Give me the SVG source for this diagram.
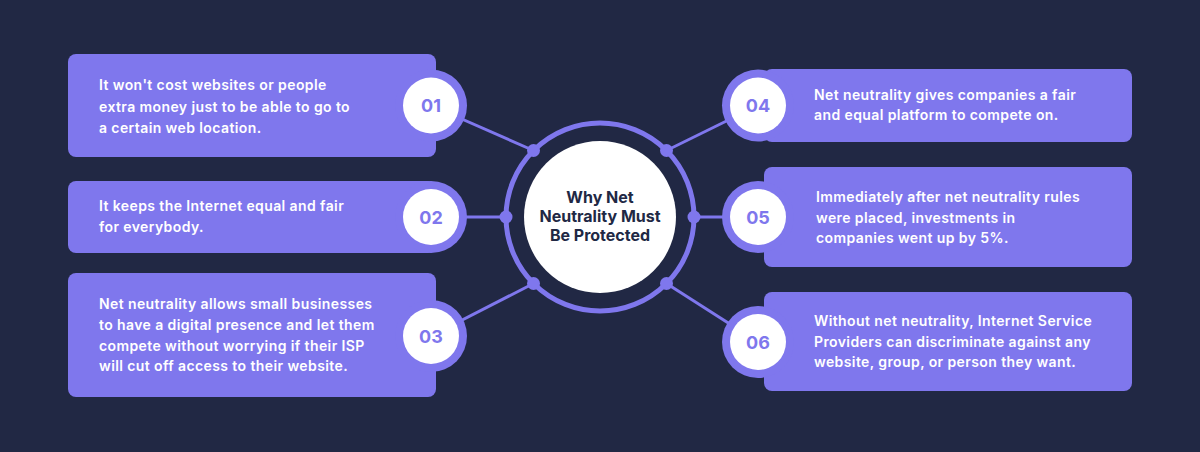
<svg xmlns="http://www.w3.org/2000/svg" width="1200" height="452" viewBox="0 0 1200 452">
  <style>
    .bg { fill: #212844; }
    .box { fill: #7f77ed; }
    .ring { fill: #7f77ed; }
    .inner { fill: #ffffff; }
    .num { font-family: Inter, "Open Sans", sans-serif; font-weight: 700; font-size: 18px; fill: #7f77ed; text-anchor: middle; }
    .txt { font-family: Inter, "Open Sans", sans-serif; font-weight: 600; font-size: 14px; letter-spacing: 0.4px; fill: #ffffff; }
    .title { font-family: Inter, "Open Sans", sans-serif; font-weight: 700; font-size: 16px; fill: #212844; text-anchor: middle; }
    .conn { stroke: #7f77ed; stroke-width: 3; fill: none; }
    .dot { fill: #7f77ed; }
  </style>
  <rect class="bg" x="0" y="0" width="1200" height="452"/>

  <g id="center">
    <circle cx="600" cy="217" r="94" fill="none" stroke="#7f77ed" stroke-width="5"/>
    <circle class="inner" cx="600" cy="217" r="76"/>
    <text class="title" x="600" y="203">Why Net</text>
    <text class="title" x="600" y="222">Neutrality Must</text>
    <text class="title" x="600" y="241">Be Protected</text>
  </g>

  <g id="connectors">
    <line class="conn" x1="533.5" y1="150.5" x2="431" y2="105.5"/>
    <line class="conn" x1="506" y1="217" x2="431" y2="217"/>
    <line class="conn" x1="533.5" y1="283.5" x2="431" y2="336"/>
    <line class="conn" x1="666.5" y1="150.5" x2="758" y2="105.5"/>
    <line class="conn" x1="694" y1="217" x2="758" y2="217"/>
    <line class="conn" x1="666.5" y1="283.5" x2="758" y2="342"/>
    <circle class="dot" cx="533.5" cy="150.5" r="6.5"/>
    <circle class="dot" cx="506" cy="217" r="6.5"/>
    <circle class="dot" cx="533.5" cy="283.5" r="6.5"/>
    <circle class="dot" cx="666.5" cy="150.5" r="6.5"/>
    <circle class="dot" cx="694" cy="217" r="6.5"/>
    <circle class="dot" cx="666.5" cy="283.5" r="6.5"/>
  </g>

  <g id="node-01">
    <rect class="box" x="68" y="54" width="368" height="103" rx="8"/>
    <circle class="ring" cx="431" cy="105.5" r="36"/>
    <circle class="inner" cx="431" cy="105.5" r="28"/>
    <text class="num" x="431" y="112">01</text>
    <text class="txt" x="99" y="90">It won't cost websites or people</text>
    <text class="txt" x="99" y="111.5">extra money just to be able to go to</text>
    <text class="txt" x="99" y="132.5">a certain web location.</text>
  </g>

  <g id="node-02">
    <rect class="box" x="68" y="181" width="368" height="72" rx="8"/>
    <circle class="ring" cx="431" cy="217" r="36"/>
    <circle class="inner" cx="431" cy="217" r="28"/>
    <text class="num" x="431" y="223.5">02</text>
    <text class="txt" x="99" y="211">It keeps the Internet equal and fair</text>
    <text class="txt" x="99" y="232">for everybody.</text>
  </g>

  <g id="node-03">
    <rect class="box" x="68" y="273" width="368" height="124" rx="8"/>
    <circle class="ring" cx="431" cy="336" r="36"/>
    <circle class="inner" cx="431" cy="336" r="28"/>
    <text class="num" x="431" y="342.5">03</text>
    <text class="txt" x="99" y="309">Net neutrality allows small businesses</text>
    <text class="txt" x="99" y="330">to have a digital presence and let them</text>
    <text class="txt" x="99" y="350.5">compete without worrying if their ISP</text>
    <text class="txt" x="99" y="371">will cut off access to their website.</text>
  </g>

  <g id="node-04">
    <rect class="box" x="764" y="69" width="368" height="73" rx="8"/>
    <circle class="ring" cx="758" cy="105.5" r="36"/>
    <circle class="inner" cx="758" cy="105.5" r="28"/>
    <text class="num" x="758" y="112">04</text>
    <text class="txt" x="814" y="99.5">Net neutrality gives companies a fair</text>
    <text class="txt" x="814" y="120">and equal platform to compete on.</text>
  </g>

  <g id="node-05">
    <rect class="box" x="764" y="167" width="368" height="100" rx="8"/>
    <circle class="ring" cx="758" cy="217" r="36"/>
    <circle class="inner" cx="758" cy="217" r="28"/>
    <text class="num" x="758" y="223.5">05</text>
    <text class="txt" x="816" y="201.5">Immediately after net neutrality rules</text>
    <text class="txt" x="816" y="222.5">were placed, investments in</text>
    <text class="txt" x="816" y="243">companies went up by 5%.</text>
  </g>

  <g id="node-06">
    <rect class="box" x="764" y="292" width="368" height="99" rx="8"/>
    <circle class="ring" cx="758" cy="342" r="36"/>
    <circle class="inner" cx="758" cy="342" r="28"/>
    <text class="num" x="758" y="348.5">06</text>
    <text class="txt" x="814" y="326">Without net neutrality, Internet Service</text>
    <text class="txt" x="814" y="346.5">Providers can discriminate against any</text>
    <text class="txt" x="814" y="367">website, group, or person they want.</text>
  </g>
</svg>
